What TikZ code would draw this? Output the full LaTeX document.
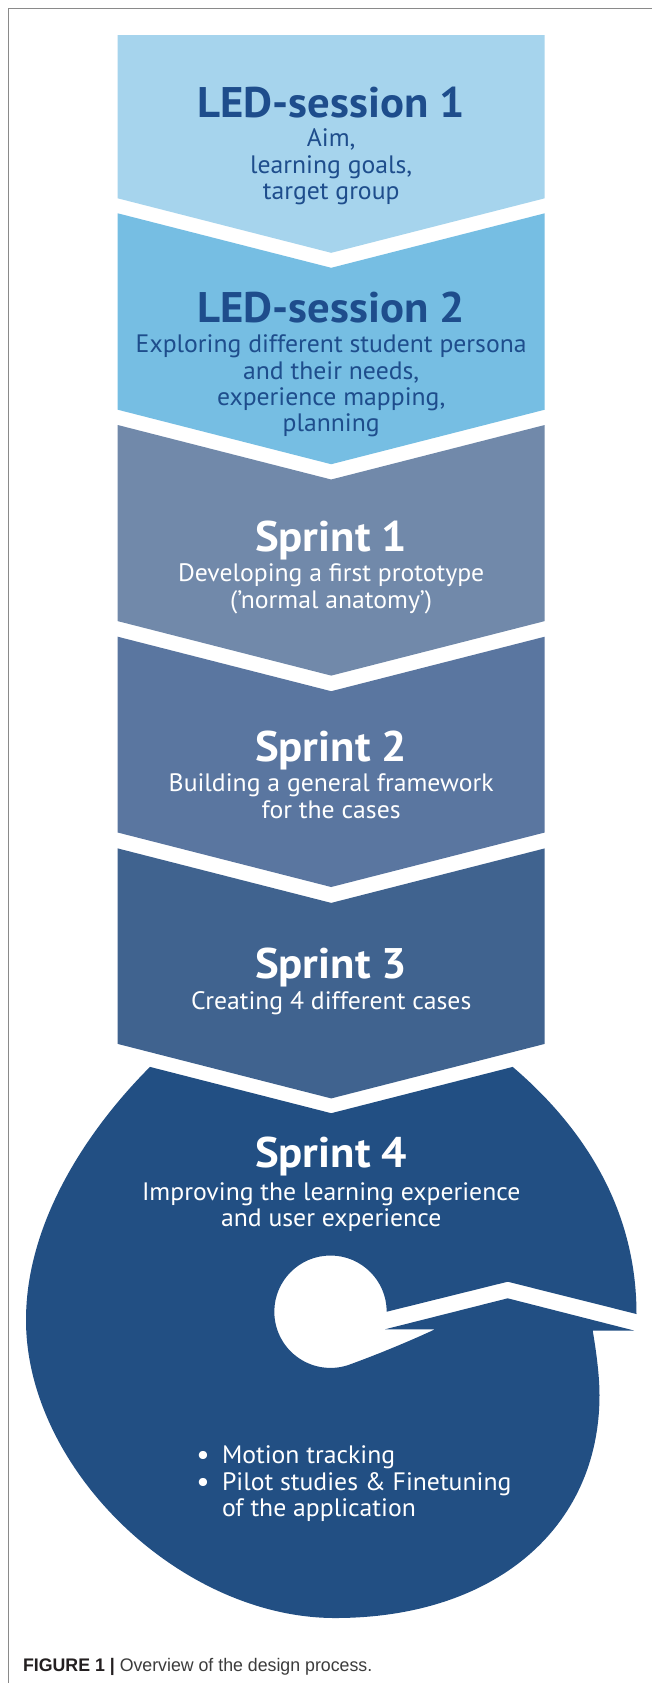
\documentclass[tikz,border=0pt]{standalone}
\usepackage{fontspec}
\setmainfont{PT Sans}[FakeStretch=1.02, BoldFeatures={FakeStretch=1.045}]
\newfontfamily\capfont{Liberation Sans}[FakeStretch=0.975]
\definecolor{cA}{HTML}{A6D4ED}
\definecolor{cB}{HTML}{76BEE3}
\definecolor{cC}{HTML}{7189AA}
\definecolor{cD}{HTML}{5A76A0}
\definecolor{cE}{HTML}{40638F}
\definecolor{cF}{HTML}{224F83}
\definecolor{ledtext}{HTML}{1E4D8C}
\definecolor{framegray}{HTML}{8A8A8A}
\definecolor{capdark}{HTML}{231F20}
\definecolor{capgray}{HTML}{3C3C3C}
\tikzset{
  titletext/.style={font=\bfseries\fontsize{21.4}{24}\selectfont, anchor=base, inner sep=0pt},
  bodytext/.style={font=\fontsize{12.6}{14}\selectfont, anchor=base, inner sep=0pt},
  bulletdot/.style={font=\fontsize{14.5}{16}\selectfont, anchor=base, inner sep=0pt, text=white},
  bullettext/.style={font=\fontsize{12.6}{14}\selectfont, anchor=base west, inner sep=0pt, text=white},
}
\begin{document}
\begin{tikzpicture}[x=0.5pt,y=-0.5pt]
\useasboundingbox (0,0) rectangle (652,1683);
\fill[white] (0,0) rectangle (652,1683);
\draw[framegray, line width=0.75pt] (8.3,1683) -- (8.3,8.3) -- (652,8.3);

% chevrons
\fill[cA] (117.7,35) -- (544.7,35) -- (544.7,198.3) -- (331.2,252.8) -- (117.7,198.3) -- cycle;
\fill[cB] (117.7,213.3) -- (331.2,267.8) -- (544.7,213.3) -- (544.7,409.7) -- (331.2,464.2) -- (117.7,409.7) -- cycle;
\fill[cC] (117.7,425.0) -- (331.2,479.5) -- (544.7,425.0) -- (544.7,621.1) -- (331.2,675.6) -- (117.7,621.1) -- cycle;
\fill[cD] (117.7,636.7) -- (331.2,691.2) -- (544.7,636.7) -- (544.7,832.5) -- (331.2,887.0) -- (117.7,832.5) -- cycle;
\fill[cE] (117.7,848.4) -- (331.2,902.9) -- (544.7,848.4) -- (544.7,1043.9) -- (331.2,1098.4) -- (117.7,1043.9) -- cycle;

% spiral
\fill[cF] (150,1066.9) -- (331.2,1113.2) -- (512.7,1066.9)
  .. controls (588.7,1131.9) and (636.5,1214) .. (636.5,1314)
  -- (507.7,1281.7) -- (386.7,1311.7)
  arc[start angle=0, end angle=-290, radius=56.2]
  .. controls (378,1354.2) and (410,1341) .. (435,1329.3)
  -- (385,1329.3) -- (507.7,1298.3) -- (634,1330.5) -- (592.7,1330.5)
  .. controls (596,1350) and (599.5,1375) .. (599.5,1395)
  .. controls (599.5,1528.8) and (493.7,1618) .. (335,1618)
  .. controls (180.5,1618) and (26,1469) .. (26,1320)
  .. controls (26,1220) and (90,1126.9) .. (150,1066.9)
  -- cycle;

% texts
\node[titletext, text=ledtext] (t1) at (331.2,117.3) {LED-session 1};
\node[bodytext, text=ledtext] (t1a) at (331.2,146.7) {Aim,};
\node[bodytext, text=ledtext] (t1b) at (331.2,173.3) {learning goals,};
\node[bodytext, text=ledtext] (t1c) at (331.2,199.3) {target group};

\node[titletext, text=ledtext] (t2) at (331.2,322.7) {LED-session 2};
\node[bodytext, text=ledtext] (t2a) at (331.2,352.7) {Exploring different student persona};
\node[bodytext, text=ledtext] (t2b) at (331.2,379.3) {and their needs,};
\node[bodytext, text=ledtext] (t2c) at (331.2,405.5) {experience mapping,};
\node[bodytext, text=ledtext] (t2d) at (331.2,431.7) {planning};

\node[titletext, text=white] (s1) at (331.2,551.7) {Sprint 1};
\node[bodytext, text=white] (s1a) at (331.2,581.7) {Developing a first prototype};
\node[bodytext, text=white] (s1b) at (331.2,608.3) {(’normal anatomy’)};

\node[titletext, text=white] (s2) at (331.2,761.7) {Sprint 2};
\node[bodytext, text=white] (s2a) at (331.2,791.7) {Building a general framework};
\node[bodytext, text=white] (s2b) at (331.2,818.3) {for the cases};

\node[titletext, text=white] (s3) at (331.2,978.3) {Sprint 3};
\node[bodytext, text=white] (s3a) at (331.2,1009.3) {Creating 4 different cases};

\node[titletext, text=white] (s4) at (331.2,1167.5) {Sprint 4};
\node[bodytext, text=white] (s4a) at (331.2,1200) {Improving the learning experience};
\node[bodytext, text=white] (s4b) at (331.2,1226) {and user experience};

\node[bulletdot] (b1) at (203,1464.5) {•};
\node[bulletdot] (b2) at (203,1491.2) {•};
\node[bullettext] (l1) at (221.6,1463.3) {Motion tracking};
\node[bullettext] (l2) at (221.6,1490) {Pilot studies \& Finetuning};
\node[bullettext] (l3) at (221.6,1516) {of the application};

\node[anchor=base west, inner sep=0pt, font=\capfont\fontsize{9.1}{11}\selectfont, text=capgray] (cap) at (22.7,1671.7)
  {\textcolor{capdark}{\bfseries FIGURE 1 |} Overview of the design process.};
\end{tikzpicture}
\end{document}
